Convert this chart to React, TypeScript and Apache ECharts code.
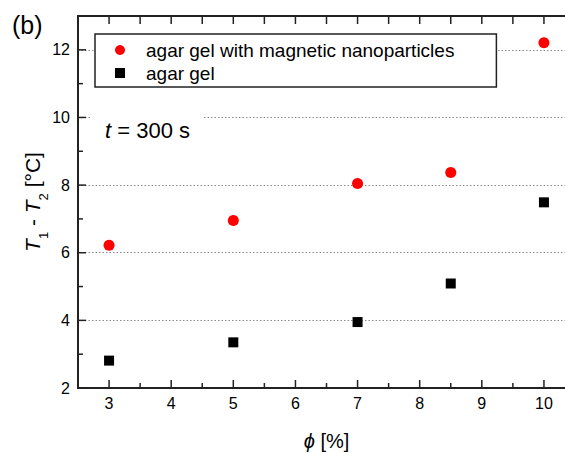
import React, { useEffect, useRef } from 'react';
import * as echarts from 'echarts';

const phiValues = [3, 5, 7, 8.5, 10];
const magneticGel = [6.22, 6.95, 8.05, 8.37, 12.21];
const agarGel = [2.81, 3.35, 3.95, 5.09, 7.49];
const xMajorTicks = [3, 4, 5, 6, 7, 8, 9, 10];
const xMinorTicks = [3.5, 4.5, 5.5, 6.5, 7.5, 8.5, 9.5];
const yMajorTicks = [2, 4, 6, 8, 10, 12];
const yMinorTicks = [3, 5, 7, 9, 11];
const xRange = [2.5, 10.5];
const yRange = [2, 13];
const seriesNames = ['agar gel with magnetic nanoparticles', 'agar gel'];
const panelLabel = '(b)';
const timeLabel = '{i|t}{n| = 300 s}';
const xTitle = '{i|\u03D5}{n| [%]}';
const yTitle = '{i|T}{s|1}{n| - }{i|T}{s|2}{n| [°C]}';

const FONT = '"Liberation Sans", Arial, Helvetica, sans-serif';
const AXIS_COLOR = '#222222';

export default function App() {
  const ref = useRef<HTMLDivElement>(null);
  useEffect(() => {
    const chart = echarts.init(ref.current!, null, { renderer: 'svg' });

    const renderFrame = (params: any, api: any) => {
      if (params.dataIndex !== 0) return null;
      const c = (x: number, y: number) => api.coord([x, y]);
      const children: any[] = [];
      const seg = (a: number[], b: number[], w: number) =>
        children.push({
          type: 'line',
          shape: { x1: a[0], y1: a[1], x2: b[0], y2: b[1] },
          style: { stroke: AXIS_COLOR, lineWidth: w },
          silent: true,
        });
      const bl = c(xRange[0], yRange[0]);
      const br = c(xRange[1], yRange[0]);
      const tl = c(xRange[0], yRange[1]);
      const tr = c(xRange[1], yRange[1]);
      seg(bl, br, 2);
      seg(tl, tr, 2);
      seg([tl[0], tl[1] - 1], [bl[0], bl[1] + 1], 2);
      xMajorTicks.forEach((v) => {
        const p = c(v, yRange[0]);
        seg(p, [p[0], p[1] - 8], 1.5);
        const q = c(v, yRange[1]);
        seg(q, [q[0], q[1] + 8], 1.5);
      });
      xMinorTicks.forEach((v) => {
        const p = c(v, yRange[0]);
        seg(p, [p[0], p[1] - 5], 1.5);
        const q = c(v, yRange[1]);
        seg(q, [q[0], q[1] + 8], 1.5);
      });
      yMajorTicks.forEach((v) => {
        const p = c(xRange[0], v);
        seg(p, [p[0] + 8, p[1]], 1.5);
      });
      yMinorTicks.forEach((v) => {
        const p = c(xRange[0], v);
        seg(p, [p[0] + 5, p[1]], 1.5);
      });
      return { type: 'group', children };
    };

    const option = {
      animation: false,
      backgroundColor: '#fff',
      title: [
        {
          text: panelLabel, left: 12, top: 11, padding: 0,
          textStyle: { fontSize: 25, fontWeight: 'normal', fontFamily: FONT, color: '#000', lineHeight: 28 },
        },
        {
          text: timeLabel, left: 91, top: 113, padding: [6, 12, 6, 14], backgroundColor: '#fff',
          textStyle: {
            fontSize: 22, fontWeight: 'normal', fontFamily: FONT, color: '#000', lineHeight: 22,
            rich: {
              i: { fontStyle: 'italic', fontSize: 22, fontFamily: FONT, color: '#000', lineHeight: 22 },
              n: { fontSize: 22, fontFamily: FONT, color: '#000', lineHeight: 22 },
            },
          },
        },
      ],
      grid: { left: 78, right: -10, top: 16, bottom: 65, containLabel: false, outerBoundsMode: 'none' },
      xAxis: {
        type: 'value', position: 'bottom', min: xRange[0], max: xRange[1], interval: 0.5,
        axisLine: { show: false, onZero: false },
        axisTick: { show: false },
        axisLabel: { show: true, customValues: xMajorTicks, margin: 7, fontSize: 16, color: '#000', fontFamily: FONT },
        splitLine: { show: false },
        name: xTitle, nameLocation: 'middle', nameGap: 43, nameMoveOverlap: false,
        nameTextStyle: {
          lineHeight: 20,
          rich: {
            i: { fontStyle: 'italic', fontSize: 20, fontFamily: FONT, color: '#000', lineHeight: 20 },
            n: { fontSize: 20, fontFamily: FONT, color: '#000', lineHeight: 20 },
          },
        },
      },
      yAxis: {
        type: 'value', position: 'left', min: yRange[0], max: yRange[1], interval: 2,
        axisLine: { show: false, onZero: false },
        axisTick: { show: false },
        axisLabel: { show: true, showMaxLabel: false, margin: 8, fontSize: 16, color: '#000', fontFamily: FONT },
        splitLine: { show: true, lineStyle: { color: '#8a8a8a', width: 1, type: [1.5, 2] } },
        name: yTitle, nameLocation: 'middle', nameRotate: 90, nameGap: 28, nameMoveOverlap: false,
        nameTextStyle: {
          lineHeight: 36,
          rich: {
            i: { fontStyle: 'italic', fontSize: 21, fontFamily: FONT, color: '#000', lineHeight: 36, verticalAlign: 'middle' },
            n: { fontSize: 21, fontFamily: FONT, color: '#000', lineHeight: 36, verticalAlign: 'middle' },
            s: { fontSize: 13, fontFamily: FONT, color: '#000', lineHeight: 13, verticalAlign: 'bottom' },
          },
        },
      },
      legend: {
        left: 95, top: 34, orient: 'vertical', selectedMode: false,
        backgroundColor: '#fff', borderColor: AXIS_COLOR, borderWidth: 1.5, borderRadius: 0,
        padding: [6, 42, 4, 20], itemGap: 3, itemWidth: 10, itemHeight: 10,
        textStyle: { fontSize: 19, color: '#000', fontFamily: FONT, lineHeight: 20, padding: [0, 0, 0, 16] },
        data: [
          { name: seriesNames[0], icon: 'circle' },
          { name: seriesNames[1], icon: 'rect' },
        ],
      },
      series: [
        {
          type: 'custom', name: 'frame', clip: false, silent: true, z: 5,
          data: [[xRange[0], yRange[0]]],
          renderItem: renderFrame,
        },
        {
          type: 'scatter', name: seriesNames[0],
          data: phiValues.map((x, i) => [x, magneticGel[i]]),
          symbol: 'circle', symbolSize: 11, itemStyle: { color: '#ff0000', opacity: 1 },
        },
        {
          type: 'scatter', name: seriesNames[1],
          data: phiValues.map((x, i) => [x, agarGel[i]]),
          symbol: 'rect', symbolSize: 10, itemStyle: { color: '#000', opacity: 1 },
        },
      ],
    };
    chart.setOption(option as any);
    return () => chart.dispose();
  }, []);
  return (
    <div
      ref={ref}
      style={{ position: 'absolute', left: 0, top: 0, width: 565, height: 453, background: '#fff' }}
    />
  );
}
